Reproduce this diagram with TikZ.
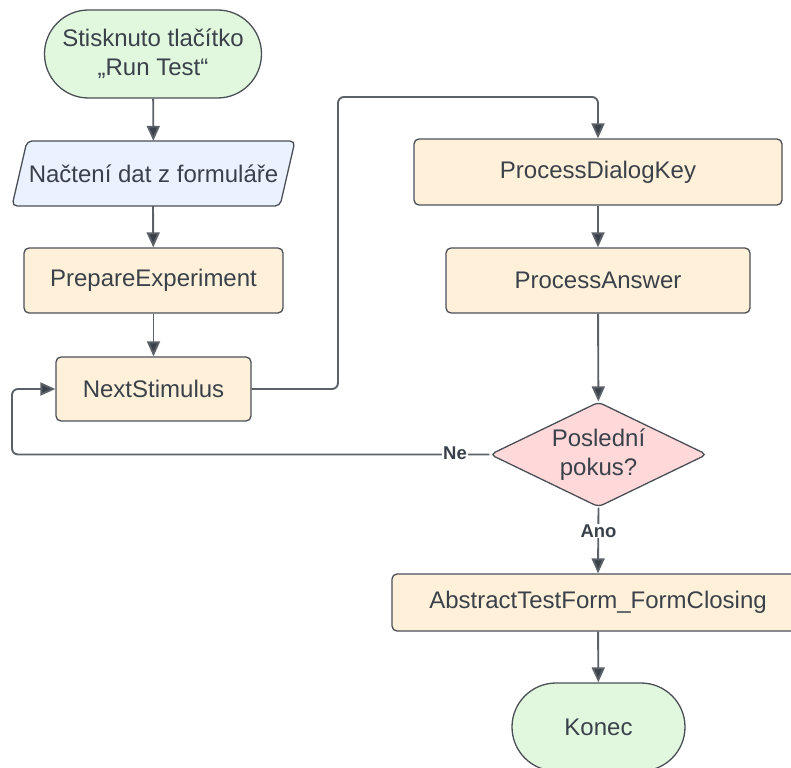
\documentclass[tikz,border=0pt]{standalone}
\usepackage{fontspec}
\setmainfont{Liberation Sans}
\usetikzlibrary{arrows.meta,shapes.geometric}
\definecolor{txt}{HTML}{3A414A}
\definecolor{ln}{HTML}{5C6168}
\definecolor{bd}{HTML}{4A4F57}
\definecolor{gfill}{HTML}{E1F8DF}
\definecolor{bfill}{HTML}{EAF2FF}
\definecolor{yfill}{HTML}{FFF1D9}
\definecolor{pfill}{HTML}{FFD9D9}
\begin{document}
\begin{tikzpicture}[x=1pt,y=-1pt,
  every node/.style={font=\fontsize{24}{29}\selectfont, text=txt},
  term/.style={draw=bd, line width=1.3pt, fill=gfill, rounded corners=44pt, minimum height=88pt, inner sep=0pt, align=center},
  proc/.style={draw=bd, line width=1.3pt, fill=yfill, rounded corners=5pt, inner sep=0pt},
  conn/.style={draw=ln, line width=1.9pt, rounded corners=6pt, -{Triangle[length=15pt,width=13pt,fill=txt]}},
  lab/.style={font=\fontsize{18.5}{20}\selectfont\bfseries, fill=white, inner sep=1pt, text=txt}
]
\useasboundingbox (0,0) rectangle (791,767);
\clip (0,0) rectangle (791,767);

% start
\node[term, minimum width=217pt] (start) at (153,54) {Stisknuto tlačítko\\„Run Test“};
% parallelogram
\filldraw[fill=bfill, draw=bd, line width=1.3pt, rounded corners=5pt]
  (12,206) -- (27,141) -- (295,141) -- (280,206) -- cycle;
\node[minimum width=283pt, minimum height=65pt, inner sep=0pt] (load) at (153.5,173.5) {Načtení dat z formuláře};
% processes
\node[proc, minimum width=259pt, minimum height=65pt] (prep) at (153.5,280.5) {PrepareExperiment};
\node[proc, minimum width=195pt, minimum height=64pt] (next) at (153.5,389) {NextStimulus};
\node[proc, minimum width=368pt, minimum height=66pt] (pdk) at (598,172) {ProcessDialogKey};
\node[proc, minimum width=304pt, minimum height=65pt] (pa) at (598,280.5) {ProcessAnswer};
\node[diamond, draw=bd, line width=1.3pt, fill=pfill, minimum width=217pt, minimum height=105pt, inner sep=0pt, align=center, rounded corners=5pt, aspect=2.07] (dec) at (598.5,454.5) {Poslední\\pokus?};
\node[proc, minimum width=412pt, minimum height=57pt] (abs) at (598,602.5) {AbstractTestForm\_FormClosing};
\node[term, minimum width=173pt] (end) at (598.5,727) {Konec};

% connectors
\draw[conn] (start) -- (load);
\draw[conn] (load.south -| start) -- (prep);
\draw[conn] (prep) -- (next);
\draw[conn] (next.east) -- (338,389) -- (338,97) -- (598,97) -- (pdk.north);
\draw[conn] (pdk) -- (pa);
\draw[conn] (pa) -- (dec);
\draw[conn] (dec.west) -- (12,454.5) -- (12,389) -- (next.west);
\node[lab] (ne) at (455,453) {Ne};
\draw[conn] (dec.south) -- (abs.north);
\node[lab] (ano) at (598.5,531) {Ano};
\draw[conn] (abs) -- (end);
\end{tikzpicture}
\end{document}
